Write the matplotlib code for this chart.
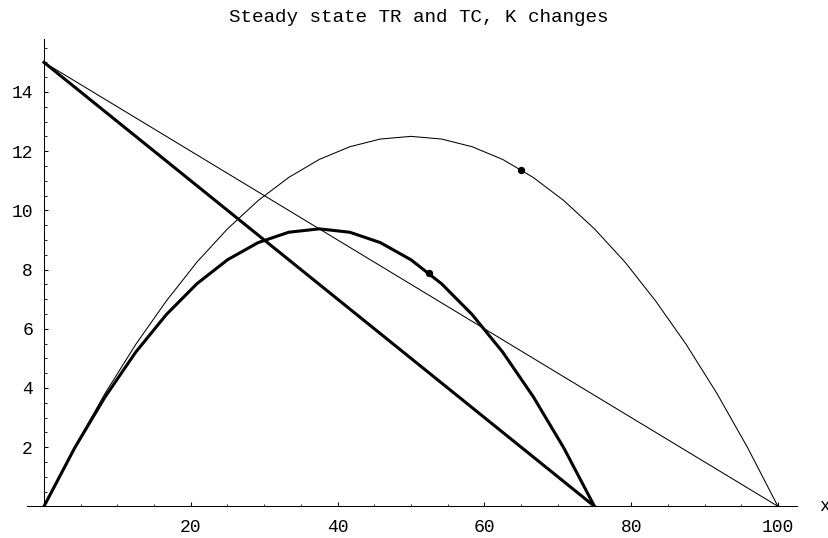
import matplotlib
matplotlib.use("Agg")
import matplotlib.pyplot as plt
from matplotlib.ticker import MultipleLocator, FixedLocator

# Revenue curves sampled at the plotted points
x_tr_k100 = [0, 4.17, 8.33, 12.5, 16.67, 20.83, 25, 29.17, 33.33, 37.5, 41.67, 45.83,
             50, 54.17, 58.33, 62.5, 66.67, 70.83, 75, 79.17, 83.33, 87.5, 91.67, 95.83, 100]
y_tr_k100 = [0, 2.0, 3.82, 5.47, 6.94, 8.25, 9.375, 10.33, 11.11, 11.72, 12.15, 12.41,
             12.5, 12.41, 12.15, 11.72, 11.11, 10.33, 9.375, 8.25, 6.94, 5.47, 3.82, 2.0, 0]

x_tr_k75 = [0, 4.17, 8.33, 12.5, 16.67, 20.83, 25, 29.17, 33.33, 37.5, 41.67, 45.83,
            50, 54.17, 58.33, 62.5, 66.67, 70.83, 75]
y_tr_k75 = [0, 1.97, 3.70, 5.21, 6.48, 7.52, 8.33, 8.91, 9.26, 9.375, 9.26, 8.91,
            8.33, 7.52, 6.48, 5.21, 3.70, 1.97, 0]

# Cost lines
x_tc_k100 = [0, 100]
y_tc_k100 = [15, 0]
x_tc_k75 = [0, 75]
y_tc_k75 = [15, 0]

# Marked points
pt_k100 = (65, 11.375)
pt_k75 = (52.5, 7.875)

x_ticks = [20, 40, 60, 80, 100]
y_ticks = [2, 4, 6, 8, 10, 12, 14]

W, H = 829, 538
fig = plt.figure(figsize=(W / 100, H / 100), dpi=100)
left = 26.7 / W
right = 797 / W
bottom = (H - 506.3) / H
top = (H - 39.3) / H
ax = fig.add_axes([left, bottom, right - left, top - bottom])

mono = ["Liberation Mono", "DejaVu Sans Mono"]

ax.plot(x_tr_k100, y_tr_k100, color="black", lw=0.75, solid_joinstyle="miter")
ax.plot(x_tc_k100, y_tc_k100, color="black", lw=0.75)
ax.plot(x_tr_k75, y_tr_k75, color="black", lw=2.2, solid_joinstyle="miter")
ax.plot(x_tc_k75, y_tc_k75, color="black", lw=2.2)
ax.plot([pt_k100[0]], [pt_k100[1]], "o", color="black", ms=4.3)
ax.plot([pt_k75[0]], [pt_k75[1]], "o", color="black", ms=4.3)

ax.set_xlim(-2.36, 102.6)
ax.set_ylim(0, 15.78)

for s in ["top", "right"]:
    ax.spines[s].set_visible(False)
ax.spines["left"].set_position(("data", 0))
ax.spines["bottom"].set_position(("data", 0))
ax.spines["left"].set_linewidth(0.75)
ax.spines["bottom"].set_linewidth(0.75)

ax.xaxis.set_major_locator(FixedLocator(x_ticks))
ax.xaxis.set_minor_locator(MultipleLocator(5))
ax.yaxis.set_major_locator(FixedLocator(y_ticks))
ax.yaxis.set_minor_locator(MultipleLocator(0.5))
ax.set_xticklabels([str(v) for v in x_ticks])
ax.set_yticklabels([str(v) for v in y_ticks])

ax.tick_params(which="major", direction="in", length=3, width=0.75, labelsize=13)
ax.tick_params(which="minor", direction="in", length=1.8, width=0.6)
ax.tick_params(axis="x", which="major", pad=9)
ax.tick_params(axis="y", which="major", pad=8)
for lab in ax.get_xticklabels() + ax.get_yticklabels():
    lab.set_family(mono)

ax.text(106.3, 0, "x", ha="center", va="center", fontsize=13, family=mono, clip_on=False)

fig.text(419 / W, (H - 17) / H, "Steady state TR and TC, K changes",
         ha="center", va="center", fontsize=13.9, family=mono)

fig.savefig("out.png", dpi=100)
